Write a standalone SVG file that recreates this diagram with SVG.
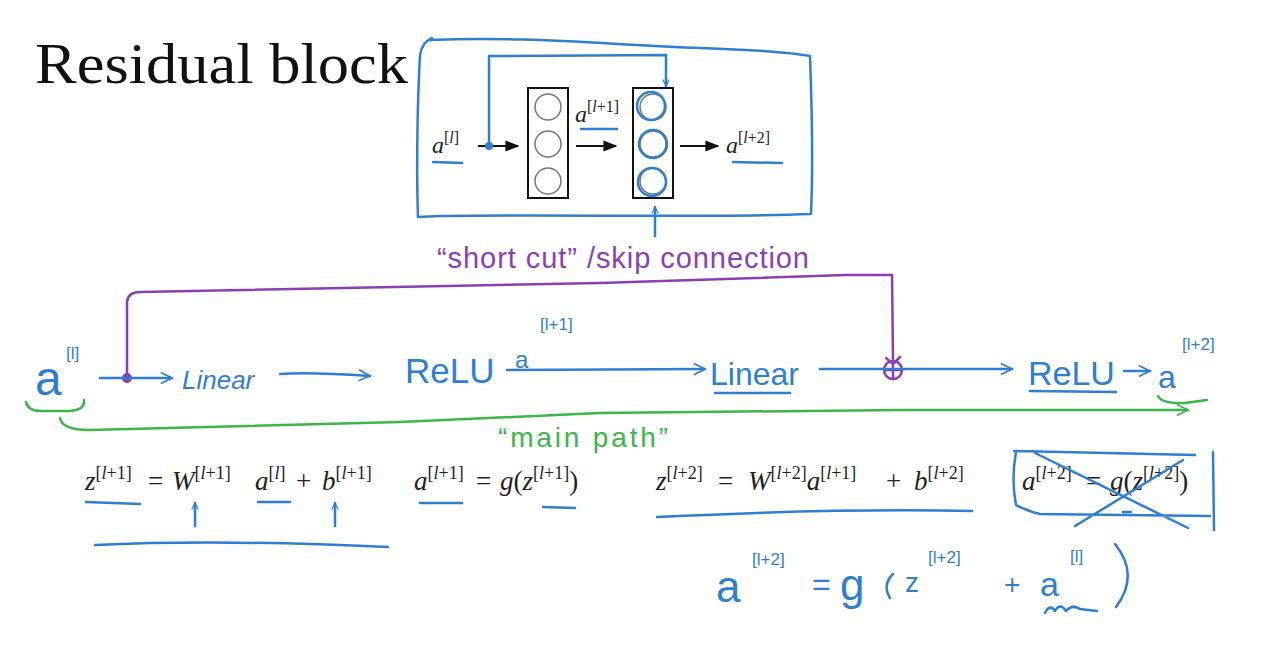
<svg xmlns="http://www.w3.org/2000/svg" width="1278" height="652" viewBox="0 0 1278 652">
<defs>
<style>
.bl{fill:none;stroke:#2f7fd0;stroke-width:2.5;stroke-linecap:round;stroke-linejoin:round}
.pu{fill:none;stroke:#8a3fb3;stroke-width:2.5;stroke-linecap:round;stroke-linejoin:round}
.gr{fill:none;stroke:#3cb54a;stroke-width:2.5;stroke-linecap:round;stroke-linejoin:round}
.bk{fill:none;stroke:#111;stroke-width:2}
.gc{fill:none;stroke:#777;stroke-width:1.5}
.m{font-family:"Liberation Serif",serif;font-style:italic;font-size:27px;fill:#222}
.n{font-family:"Liberation Serif",serif;font-style:normal;font-size:27px;fill:#222}
.s{font-family:"Liberation Serif",serif;font-style:normal;font-size:18px;fill:#222}
.ms{font-family:"Liberation Serif",serif;font-style:italic;font-size:24px;fill:#222}
.ss{font-family:"Liberation Serif",serif;font-style:normal;font-size:16px;fill:#222}
.hb{font-family:"Liberation Sans",sans-serif;fill:#2f7fd0}
.hp{font-family:"Liberation Sans",sans-serif;fill:#8a3fb3}
.hg{font-family:"Liberation Sans",sans-serif;fill:#3cb54a}
.i{font-style:italic}
</style>
<marker id="ak" viewBox="0 0 10 10" refX="9" refY="5" markerWidth="7" markerHeight="7" orient="auto"><path d="M0,1 L10,5 L0,9 z" fill="#111"/></marker>
<marker id="ab" viewBox="0 0 10 10" refX="9" refY="5" markerWidth="8" markerHeight="8" orient="auto" markerUnits="userSpaceOnUse"><path d="M1,1 L9,5 L1,9" fill="none" stroke="#2f7fd0" stroke-width="1.5"/></marker>
<marker id="abo" viewBox="0 0 10 10" refX="9" refY="5" markerWidth="14" markerHeight="14" orient="auto" markerUnits="userSpaceOnUse"><path d="M1,1 L9,5 L1,9" fill="none" stroke="#2f7fd0" stroke-width="1.2"/></marker>
<marker id="ag" viewBox="0 0 10 10" refX="9" refY="5" markerWidth="14" markerHeight="14" orient="auto" markerUnits="userSpaceOnUse"><path d="M1,1 L9,5 L1,9" fill="none" stroke="#3cb54a" stroke-width="1.2"/></marker>
</defs>
<rect width="1278" height="652" fill="#fff"/>

<g id="title"><text x="35" y="83" font-family="Liberation Serif,serif" font-size="57" fill="#111" textLength="373" lengthAdjust="spacingAndGlyphs">Residual block</text></g>

<g id="block-frame"><path class="bl" d="M430,40 C520,36 600,44 700,48 C760,50 790,52 810,56 C812,110 813,170 811,214 C700,218 560,214 440,216 L418,217 C416,160 418,90 420,55 Q422,42 432,38"/></g>

<g id="layer1">
<rect class="bk" x="528" y="88" width="40" height="110"/>
<circle class="gc" cx="548" cy="107" r="13"/><circle class="gc" cx="548" cy="144" r="13"/><circle class="gc" cx="548" cy="181" r="13"/>
</g>
<g id="layer2">
<rect class="bk" x="633" y="88" width="40" height="110"/>
<circle class="gc" cx="653" cy="107" r="13"/><circle class="gc" cx="653" cy="144" r="13"/><circle class="gc" cx="653" cy="181" r="13"/>
<circle class="bl" cx="651" cy="106" r="14"/><circle class="bl" cx="653" cy="144" r="14"/><circle class="bl" cx="652" cy="182" r="14"/>
</g>
<g id="block-labels">
<text class="ms" x="432" y="153">a<tspan class="ss" dy="-10">[<tspan class="i">l</tspan>]</tspan></text>
<path class="bl" d="M433,162 L462,163"/>
<text class="ms" x="575" y="122">a<tspan class="ss" dy="-10">[<tspan class="i">l</tspan>+1]</tspan></text>
<path class="bl" d="M581,129 L617,129"/>
<text class="ms" x="726" y="153">a<tspan class="ss" dy="-10">[<tspan class="i">l</tspan>+2]</tspan></text>
<path class="bl" d="M733,162 L782,163"/>
</g>

<g id="connectors">
<path class="bk" d="M478,146 L518,146" marker-end="url(#ak)"/>
<path class="bk" d="M576,146 L616,146" marker-end="url(#ak)"/>
<path class="bk" d="M680,146 L718,146" marker-end="url(#ak)"/>
<path class="bl" d="M489,146 L489,56 L666,55 L666,86" marker-end="url(#ab)"/>
<circle cx="489" cy="146" r="4" fill="#2f7fd0"/>
<path class="bl" d="M655,236 L655,207" marker-end="url(#ab)"/>

<path class="pu" d="M127,378 L127,302 Q128,292 140,292 L600,283 L845,275 L892,275 L893,362"/>
<circle cx="127" cy="378" r="5" fill="#8a3fb3"/>
<circle class="pu" cx="893" cy="370" r="9" stroke-width="2"/>
<path class="pu" d="M893,361 L893,379 M884,370 L902,370 M886,358 L893,364 L900,357" stroke-width="2"/>

<path class="bl" d="M100,378 L172,378" marker-end="url(#abo)"/>
<path class="bl" d="M280,374 C310,372 340,374 370,376" marker-end="url(#abo)"/>
<path class="bl" d="M507,370 L705,369" marker-end="url(#abo)"/>
<path class="bl" d="M820,369 L1012,369" marker-end="url(#abo)"/>
<path class="bl" d="M1124,371 L1150,371" marker-end="url(#abo)"/>

<path class="gr" d="M26,402 Q28,412 45,411 L70,411 Q85,410 84,400"/>
<path class="gr" d="M60,418 Q62,430 90,430 L400,422 L600,413 L900,410 L1130,410 L1188,410" marker-end="url(#ag)"/>
<path class="gr" d="M1158,396 Q1162,404 1185,403 L1207,400"/>
</g>

<g id="main-row">
<text class="hb" x="35" y="395" font-size="48">a</text>
<text class="hb" x="66" y="359" font-size="17">[l]</text>
<text class="hb" x="182" y="389" font-size="26" font-style="italic">Linear</text>
<text class="hb" x="405" y="383" font-size="35">ReLU</text>
<text class="hb" x="515" y="368" font-size="24">a</text>
<text class="hb" x="540" y="330" font-size="17">[l+1]</text>
<text class="hb" x="710" y="385" font-size="32">Linear</text>
<path class="bl" d="M715,393 L790,393"/>
<text class="hb" x="1028" y="385" font-size="34">ReLU</text>
<path class="bl" d="M1030,391 L1116,392"/>
<text class="hb" x="1158" y="388" font-size="32">a</text>
<text class="hb" x="1182" y="350" font-size="17">[l+2]</text>
</g>

<g id="labels">
<text class="hp" x="437" y="268" font-size="29" textLength="372" lengthAdjust="spacing">“short cut” /skip connection</text>
<text class="hg" x="498" y="447" font-size="28" textLength="170" lengthAdjust="spacing">“main path”</text>
</g>

<g id="eq1">
<text class="m" x="85" y="490">z<tspan class="s" dy="-11">[<tspan class="i">l</tspan>+1]</tspan></text>
<text class="n" x="148" y="490">=</text>
<text class="m" x="172" y="490">W<tspan class="s" dy="-11">[<tspan class="i">l</tspan>+1]</tspan></text>
<text class="m" x="255" y="490">a<tspan class="s" dy="-11">[<tspan class="i">l</tspan>]</tspan></text>
<text class="n" x="296" y="490">+</text>
<text class="m" x="322" y="490">b<tspan class="s" dy="-11">[<tspan class="i">l</tspan>+1]</tspan></text>
<path class="bl" d="M86,502 L140,504"/>
<path class="bl" d="M258,502 L290,502"/>
<path class="bl" d="M195,526 L195,503" marker-end="url(#ab)"/>
<path class="bl" d="M335,526 L335,503" marker-end="url(#ab)"/>
<path class="bl" d="M95,545 C200,540 300,543 388,547"/>
</g>

<g id="eq2">
<text class="m" x="414" y="490">a<tspan class="s" dy="-11">[<tspan class="i">l</tspan>+1]</tspan></text>
<text class="n" x="476" y="490">=</text>
<text class="m" x="500" y="490">g<tspan class="n">(</tspan>z<tspan class="s" dy="-11">[<tspan class="i">l</tspan>+1]</tspan><tspan class="n" dy="11">)</tspan></text>
<path class="bl" d="M420,503 L462,503"/>
<path class="bl" d="M543,507 L575,508"/>
</g>

<g id="eq3">
<text class="m" x="656" y="490">z<tspan class="s" dy="-11">[<tspan class="i">l</tspan>+2]</tspan></text>
<text class="n" x="718" y="490">=</text>
<text class="m" x="748" y="490">W<tspan class="s" dy="-11">[<tspan class="i">l</tspan>+2]</tspan><tspan dy="11">a</tspan><tspan class="s" dy="-11">[<tspan class="i">l</tspan>+1]</tspan></text>
<text class="n" x="886" y="490">+</text>
<text class="m" x="914" y="490">b<tspan class="s" dy="-11">[<tspan class="i">l</tspan>+2]</tspan></text>
<path class="bl" d="M657,517 C760,512 880,509 972,511"/>
</g>

<g id="eq4">
<text class="m" x="1022" y="490">a<tspan class="s" dy="-11">[<tspan class="i">l</tspan>+2]</tspan></text>
<text class="n" x="1086" y="490">=</text>
<text class="m" x="1110" y="490">g<tspan class="n">(</tspan>z<tspan class="s" dy="-11">[<tspan class="i">l</tspan>+2]</tspan><tspan class="n" dy="11">)</tspan></text>
<path class="bl" d="M1014,451 L1195,455 M1016,452 Q1011,480 1016,505 Q1030,512 1040,514 L1210,516 M1213,452 L1214,530 M1035,453 L1188,528 M1075,526 L1183,460 M1123,512 L1131,512"/>
</g>

<g id="result">
<text class="hb" x="716" y="602" font-size="44">a</text>
<text class="hb" x="752" y="565" font-size="17">[l+2]</text>
<text class="hb" x="812" y="595" font-size="32">=</text>
<text class="hb" x="840" y="600" font-size="44">g</text>
<path class="bl" d="M893,574 Q882,585 890,598"/>
<text class="hb" x="905" y="592" font-size="28">z</text>
<text class="hb" x="928" y="563" font-size="17">[l+2]</text>
<text class="hb" x="1004" y="594" font-size="28">+</text>
<text class="hb" x="1040" y="596" font-size="34">a</text>
<text class="hb" x="1070" y="562" font-size="17">[l]</text>
<path class="bl" d="M1115,544 Q1140,575 1116,607"/>
<path class="bl" d="M1045,613 Q1050,603 1055,611 Q1060,602 1066,611 Q1072,604 1080,609 L1097,611"/>
</g>
</svg>
